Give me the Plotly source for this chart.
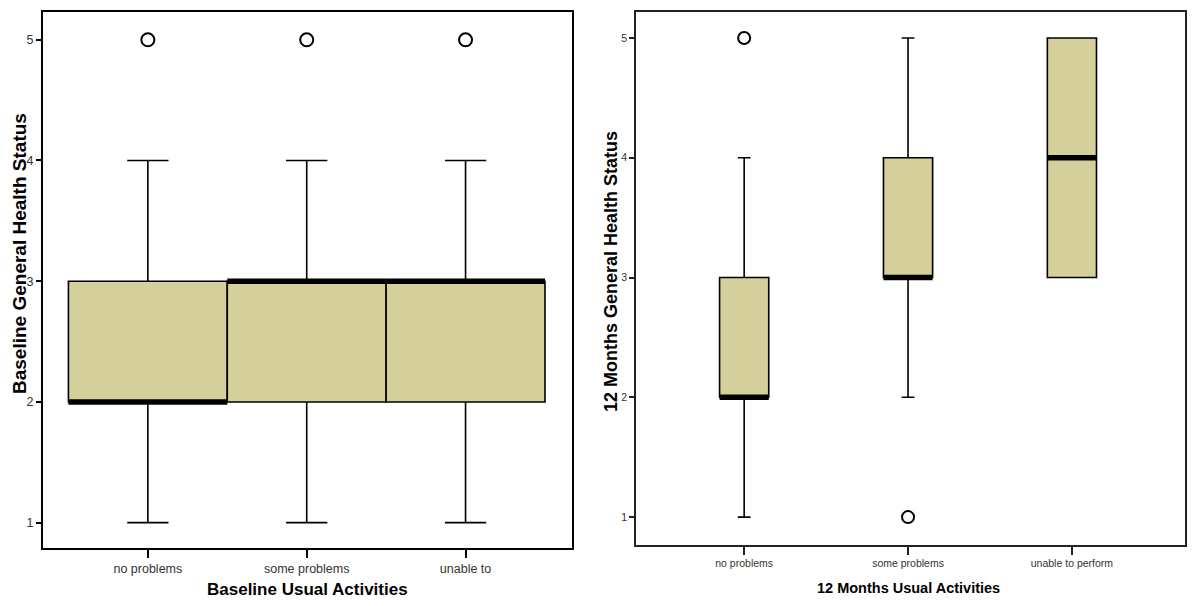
import plotly.graph_objects as go

# ---- data ----
categories_left = ["no problems", "some problems", "unable to"]
left_min = [1, 1, 1]
left_q1 = [2, 2, 2]
left_median = [2, 3, 3]
left_q3 = [3, 3, 3]
left_max = [4, 4, 4]
left_outliers = [5, 5, 5]          # one outlier per category

categories_right = ["no problems", "some problems", "unable to perform"]
right_min = [1, 2, 3]
right_q1 = [2, 3, 3]
right_median = [2, 3, 4]
right_q3 = [3, 4, 5]
right_max = [4, 5, 5]
right_outlier_x = [0, 1]
right_outlier_y = [5, 1]

y_ticks = [1, 2, 3, 4, 5]

FILL = "rgb(212,207,155)"
OFF = 8               # page body margin
W = 1200 - 2 * OFF
H = 606 - 2 * OFF

fig = go.Figure()

def add_panel(xa, ya, n, q1, med, q3, lo, hi, width, ox, oy, msize, lw):
    xs = list(range(n))
    fig.add_trace(go.Box(
        x=xs, q1=q1, median=med, q3=q3, lowerfence=lo, upperfence=hi,
        width=width, whiskerwidth=0.26, fillcolor=FILL,
        line=dict(color="black", width=lw), boxpoints=False,
        xaxis=xa, yaxis=ya, showlegend=False, hoverinfo="skip"))
    mx, my = [], []
    for i in xs:
        mx += [i - width / 2, i + width / 2, None]
        my += [med[i], med[i], None]
    fig.add_trace(go.Scatter(x=mx, y=my, mode="lines",
                             line=dict(color="black", width=5.5),
                             xaxis=xa, yaxis=ya, showlegend=False, hoverinfo="skip"))
    fig.add_trace(go.Scatter(x=ox, y=oy, mode="markers",
                             marker=dict(symbol="circle-open", size=msize,
                                         color="black", line=dict(width=2, color="black")),
                             xaxis=xa, yaxis=ya, showlegend=False, hoverinfo="skip"))

add_panel("x", "y", 3, left_q1, left_median, left_q3, left_min, left_max, 1.0,
          list(range(3)), left_outliers, 13, 1.6)
add_panel("x2", "y2", 3, right_q1, right_median, right_q3, right_min, right_max, 0.3,
          right_outlier_x, right_outlier_y, 12, 1.6)

def px_x(p):
    return (p - OFF) / W

def px_y(p):
    return 1 - (p - OFF) / H

tickfont_l = dict(family="Liberation Sans Narrow, Liberation Sans, Arial", size=12.5, color="#333")
tickfont_r = dict(family="Liberation Sans Narrow, Liberation Sans, Arial", size=10.5, color="#333")

fig.update_layout(
    width=W, height=H,
    margin=dict(l=0, r=0, t=0, b=0),
    paper_bgcolor="white", plot_bgcolor="white",
    xaxis=dict(domain=[px_x(43), px_x(572)], range=[-0.66, 2.67],
               tickmode="array", tickvals=[0, 1, 2], ticktext=categories_left,
               showgrid=False, zeroline=False, showline=True, mirror=True,
               linecolor="black", linewidth=2, ticks="outside", ticklen=8,
               tickcolor="black", tickwidth=1.5, tickfont=tickfont_l, anchor="y"),
    yaxis=dict(domain=[px_y(548), px_y(12)], range=[0.79, 5.23],
               tickmode="array", tickvals=y_ticks,
               showgrid=False, zeroline=False, showline=True, mirror=True,
               linecolor="black", linewidth=2, ticks="outside", ticklen=5,
               tickcolor="black", tickwidth=1.5, tickfont=tickfont_l, anchor="x"),
    xaxis2=dict(domain=[px_x(636), px_x(1185)], range=[-0.66, 2.69],
                tickmode="array", tickvals=[0, 1, 2], ticktext=categories_right,
                showgrid=False, zeroline=False, showline=True, mirror=True,
                linecolor="#222", linewidth=1.5, ticks="outside", ticklen=8,
                tickcolor="#222", tickwidth=1.5, tickfont=tickfont_r, anchor="y2"),
    yaxis2=dict(domain=[px_y(545), px_y(12)], range=[0.767, 5.217],
                tickmode="array", tickvals=y_ticks,
                showgrid=False, zeroline=False, showline=True, mirror=True,
                linecolor="#222", linewidth=1.5, ticks="outside", ticklen=5,
                tickcolor="#222", tickwidth=1.5, tickfont=tickfont_r, anchor="x2"),
)

fig.add_annotation(text="<b>Baseline Usual Activities</b>", xref="paper", yref="paper",
                   x=px_x(307), y=px_y(589), showarrow=False, borderpad=0,
                   font=dict(family="Liberation Sans, Arial", size=17, color="black"),
                   xanchor="center", yanchor="middle")
fig.add_annotation(text="<b>12 Months Usual Activities</b>", xref="paper", yref="paper",
                   x=px_x(908), y=px_y(588), showarrow=False, borderpad=0,
                   font=dict(family="Liberation Sans Narrow, Liberation Sans, Arial", size=14.5, color="black"),
                   xanchor="center", yanchor="middle")
fig.add_annotation(text="<b>Baseline General Health Status</b>", xref="paper", yref="paper",
                   x=px_x(19), y=px_y(254), showarrow=False, borderpad=0,
                   font=dict(family="Liberation Sans, Arial", size=19, color="black"),
                   textangle=-90, xanchor="center", yanchor="middle")
fig.add_annotation(text="<b>12 Months General Health Status</b>", xref="paper", yref="paper",
                   x=px_x(611), y=px_y(272), showarrow=False, borderpad=0,
                   font=dict(family="Liberation Sans, Arial", size=18, color="black"),
                   textangle=-90, xanchor="center", yanchor="middle")

fig.write_html("out.html")
